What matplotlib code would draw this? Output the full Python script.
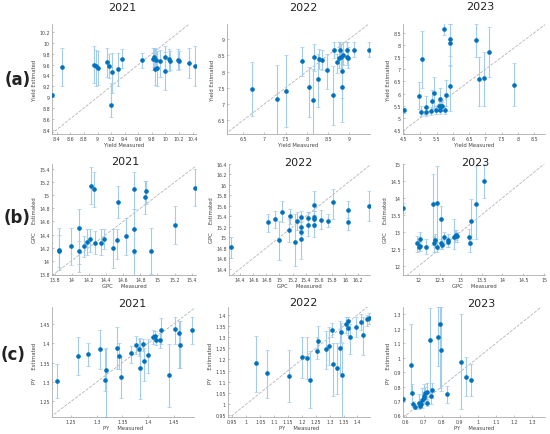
import matplotlib
matplotlib.use('Agg')
import matplotlib.pyplot as plt
import numpy as np
from matplotlib.ticker import FuncFormatter


# ---- row (a): yield ----
yield21_x = [8.33, 8.48, 8.95, 8.985, 9.0, 9.14, 9.175, 9.215, 9.2, 9.3, 9.36, 9.66, 9.81,
             9.83, 9.84, 9.86, 9.87, 9.92, 9.99, 9.99, 10.05, 10.07, 10.18, 10.2, 10.34, 10.44]
yield21_y = [9.04, 9.55, 9.60, 9.57, 9.54, 9.64, 9.57, 9.46, 8.86, 9.52, 9.70, 9.68, 9.70,
             9.74, 9.52, 9.69, 9.54, 9.66, 9.75, 9.49, 9.70, 9.67, 9.69, 9.66, 9.63, 9.58]
yield21_lo = [9.00, 9.21, 9.26, 9.21, 9.23, 9.37, 9.35, 9.08, 8.64, 9.21, 9.54, 9.54, 9.51,
              9.55, 9.23, 9.50, 9.21, 9.38, 9.48, 9.14, 9.48, 9.50, 9.51, 9.52, 9.35, 9.21]
yield21_hi = [9.08, 9.90, 9.95, 9.87, 9.85, 9.90, 9.80, 9.82, 9.26, 9.82, 9.88, 9.82, 9.90,
              9.90, 9.90, 9.88, 9.85, 9.87, 9.95, 9.84, 9.88, 9.85, 9.88, 9.86, 9.90, 9.95]

yield22_x = [6.70, 7.29, 7.52, 7.88, 8.06, 8.14, 8.17, 8.27, 8.29, 8.37, 8.48, 8.62, 8.64,
             8.72, 8.75, 8.78, 8.80, 8.83, 8.83, 8.86, 8.94, 8.95, 8.98, 9.12, 9.46]
yield22_y = [7.45, 7.16, 7.41, 8.31, 7.51, 7.13, 8.44, 7.77, 8.37, 8.34, 8.04, 7.27, 8.67,
             8.28, 8.42, 8.67, 8.44, 8.02, 7.51, 8.51, 8.67, 8.46, 8.42, 8.67, 8.67]
yield22_lo = [6.62, 6.06, 6.30, 7.86, 6.60, 5.90, 8.01, 6.90, 8.07, 8.05, 7.45, 6.37, 8.42,
              7.95, 8.10, 8.40, 8.10, 7.18, 6.44, 8.20, 8.45, 8.20, 8.10, 8.45, 8.45]
yield22_hi = [8.29, 8.19, 8.51, 8.75, 8.14, 8.09, 8.85, 8.54, 8.70, 8.65, 8.54, 8.16, 8.90,
              8.55, 8.90, 8.90, 8.85, 8.67, 8.24, 8.90, 8.90, 8.90, 8.75, 8.90, 8.90]

yield23_x = [4.50, 4.95, 5.01, 5.05, 5.17, 5.17, 5.34, 5.36, 5.42, 5.49, 5.57, 5.60, 5.62,
             5.65, 5.68, 5.73, 5.77, 5.80, 5.91, 5.91, 5.91, 6.71, 6.81, 6.95, 7.12, 7.87]
yield23_y = [5.31, 5.89, 5.26, 7.41, 5.46, 5.24, 5.28, 5.69, 6.03, 5.31, 5.51, 5.31, 5.76,
             5.51, 5.49, 8.64, 5.31, 5.96, 8.23, 8.08, 6.32, 8.19, 6.61, 6.64, 7.69, 6.37]
yield23_lo = [5.20, 5.35, 5.08, 6.23, 5.11, 5.10, 5.12, 5.35, 5.42, 5.15, 5.30, 5.15, 5.51,
              5.30, 5.30, 8.39, 5.15, 5.49, 7.56, 7.15, 5.28, 7.51, 5.51, 5.51, 6.68, 5.49]
yield23_hi = [5.40, 6.46, 5.49, 8.57, 5.89, 5.40, 5.45, 6.16, 6.70, 5.50, 5.70, 5.50, 6.23,
              5.70, 5.65, 8.89, 5.50, 6.57, 8.86, 8.86, 7.18, 8.86, 7.51, 7.72, 8.73, 7.24]

# ---- row (b): GPC ----
gpc21_x = [13.85, 13.85, 13.99, 14.09, 14.09, 14.14, 14.18, 14.21, 14.23, 14.26, 14.27, 14.34, 14.38,
           14.48, 14.53, 14.54, 14.63, 14.73, 14.73, 14.73, 14.85, 14.87, 14.93, 15.21, 15.44]
gpc21_y = [14.17, 14.14, 14.22, 14.50, 14.14, 14.22, 14.28, 14.33, 15.15, 15.09, 14.27, 14.27, 14.33,
           14.19, 14.31, 14.90, 14.37, 15.09, 14.49, 14.15, 14.97, 15.07, 14.15, 14.55, 15.12]
gpc21_lo = [13.85, 13.90, 13.93, 13.82, 13.95, 14.05, 14.08, 14.13, 14.87, 14.82, 14.10, 14.08, 14.18,
            13.88, 14.03, 14.66, 14.08, 14.79, 14.10, 13.70, 14.71, 14.87, 13.80, 14.26, 14.84]
gpc21_hi = [14.50, 14.40, 14.50, 14.79, 14.30, 14.38, 14.49, 14.49, 15.43, 15.36, 14.46, 14.49, 14.49,
            14.49, 14.49, 15.15, 14.66, 15.36, 14.79, 14.50, 15.22, 15.22, 14.50, 14.84, 15.40]

gpc22_x = [14.26, 14.83, 14.93, 15.00, 15.04, 15.14, 15.16, 15.24, 15.26, 15.33, 15.33, 15.33, 15.33,
           15.43, 15.43, 15.53, 15.53, 15.53, 15.53, 15.63, 15.74, 15.81, 16.04, 16.04, 16.37]
gpc22_y = [14.81, 15.29, 15.35, 14.94, 15.48, 15.13, 15.40, 14.91, 15.32, 15.38, 15.19, 15.11, 14.97,
           15.37, 15.24, 15.62, 15.38, 15.35, 15.23, 15.34, 15.32, 15.67, 15.53, 15.29, 15.60]
gpc22_lo = [14.60, 15.11, 15.17, 14.56, 15.29, 14.91, 15.26, 14.45, 15.13, 15.19, 15.05, 14.95, 14.59,
            15.21, 15.03, 15.35, 15.25, 15.20, 15.00, 15.16, 15.19, 15.35, 15.37, 15.13, 15.32]
gpc22_hi = [15.00, 15.45, 15.51, 15.32, 15.69, 15.35, 15.54, 15.45, 15.48, 15.51, 15.35, 15.30, 15.32,
            15.49, 15.48, 15.88, 15.50, 15.50, 15.42, 15.53, 15.45, 15.93, 15.70, 15.51, 15.89]

gpc23_x = [11.62, 11.96, 12.00, 12.02, 12.03, 12.16, 12.35, 12.36, 12.39, 12.44, 12.44, 12.52, 12.52,
           12.55, 12.60, 12.70, 12.70, 12.83, 12.86, 12.90, 12.91, 13.19, 13.22, 13.26, 13.36, 13.56]
gpc23_y = [13.70, 12.68, 12.55, 12.58, 12.79, 12.55, 13.82, 12.67, 12.76, 13.85, 12.55, 13.38, 12.67,
           12.62, 12.84, 12.75, 12.70, 12.84, 12.89, 12.91, 12.87, 12.84, 12.67, 13.31, 13.82, 14.49]
gpc23_lo = [13.55, 12.40, 12.45, 12.45, 12.60, 12.35, 12.60, 12.40, 12.55, 12.70, 12.40, 12.60, 12.50,
            12.50, 12.65, 12.55, 12.55, 12.50, 12.70, 12.75, 12.70, 12.60, 12.40, 12.79, 12.79, 13.99]
gpc23_hi = [13.85, 12.89, 12.75, 12.70, 12.99, 12.79, 14.71, 12.89, 12.95, 14.95, 12.70, 13.77, 12.80,
            12.75, 13.00, 12.94, 12.85, 13.38, 13.05, 13.05, 13.00, 13.09, 12.89, 13.97, 14.95, 15.00]

# ---- row (c): PY ----
py21_x = [1.223, 1.264, 1.282, 1.306, 1.316, 1.318, 1.339, 1.344, 1.347, 1.367, 1.376, 1.382, 1.384,
          1.390, 1.392, 1.400, 1.410, 1.413, 1.416, 1.423, 1.424, 1.440, 1.453, 1.460, 1.461, 1.485]
py21_y = [1.303, 1.367, 1.371, 1.384, 1.305, 1.331, 1.387, 1.367, 1.314, 1.374, 1.394, 1.384, 1.337,
          1.397, 1.353, 1.369, 1.416, 1.418, 1.407, 1.407, 1.434, 1.318, 1.437, 1.427, 1.394, 1.433]
py21_lo = [1.258, 1.318, 1.341, 1.333, 1.277, 1.210, 1.333, 1.333, 1.260, 1.350, 1.371, 1.367, 1.256,
           1.380, 1.303, 1.324, 1.399, 1.405, 1.395, 1.388, 1.399, 1.235, 1.399, 1.337, 1.335, 1.399]
py21_hi = [1.347, 1.416, 1.401, 1.435, 1.384, 1.388, 1.441, 1.401, 1.367, 1.393, 1.418, 1.410, 1.414,
           1.410, 1.388, 1.410, 1.433, 1.430, 1.420, 1.427, 1.465, 1.397, 1.467, 1.457, 1.457, 1.467]

py22_x = [1.034, 1.075, 1.153, 1.202, 1.219, 1.229, 1.253, 1.259, 1.286, 1.298, 1.307, 1.313, 1.325,
          1.337, 1.339, 1.345, 1.360, 1.367, 1.367, 1.373, 1.394, 1.411, 1.420, 1.433, 1.441]
py22_y = [1.182, 1.137, 1.127, 1.209, 1.206, 1.110, 1.239, 1.284, 1.247, 1.260, 1.334, 1.179, 1.161,
          1.251, 1.322, 1.130, 1.359, 1.371, 1.341, 1.299, 1.347, 1.370, 1.310, 1.379, 1.385]
py22_lo = [1.056, 1.029, 1.007, 1.116, 1.112, 0.981, 1.202, 1.232, 1.157, 1.176, 1.302, 1.037, 1.044,
           1.137, 1.277, 0.930, 1.317, 1.350, 1.310, 1.224, 1.299, 1.332, 1.220, 1.350, 1.360]
py22_hi = [1.304, 1.242, 1.242, 1.302, 1.302, 1.239, 1.299, 1.349, 1.329, 1.344, 1.362, 1.272, 1.272,
           1.374, 1.362, 1.272, 1.389, 1.390, 1.370, 1.359, 1.389, 1.404, 1.392, 1.400, 1.410]

py23_x = [0.585, 0.631, 0.635, 0.641, 0.650, 0.672, 0.678, 0.687, 0.690, 0.700, 0.702, 0.709,
          0.715, 0.718, 0.737, 0.742, 0.746, 0.779, 0.792, 0.794, 0.831, 0.903, 0.931, 0.960]
py23_y = [0.711, 0.947, 0.753, 0.676, 0.660, 0.683, 0.665, 0.676, 0.706, 0.723, 0.734, 0.753,
          0.764, 0.688, 1.120, 0.734, 0.776, 1.145, 1.235, 1.053, 0.746, 0.972, 0.868, 0.843]
py23_lo = [0.690, 0.746, 0.688, 0.655, 0.645, 0.642, 0.650, 0.660, 0.653, 0.700, 0.676, 0.720,
           0.711, 0.665, 0.757, 0.676, 0.723, 0.942, 0.792, 0.769, 0.688, 0.642, 0.734, 0.734]
py23_hi = [0.730, 1.231, 0.815, 0.700, 0.680, 0.746, 0.680, 0.700, 0.792, 0.750, 0.815, 0.800,
           0.827, 0.710, 1.342, 0.792, 0.827, 1.351, 1.351, 1.351, 0.803, 1.300, 1.004, 0.958]

years = ['2021', '2022', '2023']
row_labels = ['(a)', '(b)', '(c)']
var_names = ['Yield', 'GPC', 'PY']

panels = [
    [(yield21_x, yield21_y, yield21_lo, yield21_hi),
     (yield22_x, yield22_y, yield22_lo, yield22_hi),
     (yield23_x, yield23_y, yield23_lo, yield23_hi)],
    [(gpc21_x, gpc21_y, gpc21_lo, gpc21_hi),
     (gpc22_x, gpc22_y, gpc22_lo, gpc22_hi),
     (gpc23_x, gpc23_y, gpc23_lo, gpc23_hi)],
    [(py21_x, py21_y, py21_lo, py21_hi),
     (py22_x, py22_y, py22_lo, py22_hi),
     (py23_x, py23_y, py23_lo, py23_hi)],
]

# axis limits and tick step per panel
limits = [
    [((8.33, 10.45), (8.32, 10.35), 0.2), ((6.12, 9.49), (6.08, 9.46), 0.5), ((4.47, 8.83), (4.34, 8.86), 0.5)],
    [((13.77, 15.45), (13.78, 15.48), 0.2), ((14.23, 16.38), (14.28, 16.40), 0.2), ((11.62, 15.02), (11.73, 15.0), 0.5)],
    [((1.213, 1.489), (1.21, 1.493), 0.05), ((0.934, 1.445), (0.942, 1.435), 0.05), ((0.585, 1.37), (0.589, 1.35), 0.1)],
]

W, H = 550, 435
# pixel boxes: (left, top, right, bottom)
boxes = [
    [(52, 25, 196, 135), (227, 25, 370, 135), (403, 25, 545, 135)],
    [(52, 165, 196, 276), (229, 165, 370, 276), (403, 165, 545, 276)],
    [(52, 308, 194, 418), (228, 308, 370, 418), (403, 308, 545, 418)],
]
title_pos = [[(122, 8), (303, 8), (480, 7)],
             [(125, 162), (298, 163), (475, 163)],
             [(132, 304), (303, 303), (481, 304)]]
label_pos = [(18, 80), (17, 218), (13, 355)]

fig = plt.figure(figsize=(W / 100, H / 100), dpi=100)

def nice(v, pos=None):
    return ('%.2f' % v).rstrip('0').rstrip('.')

for r in range(3):
    for c in range(3):
        l, t, rr, b = boxes[r][c]
        ax = fig.add_axes([l / W, 1 - b / H, (rr - l) / W, (b - t) / H])
        x, y, lo, hi = [np.array(a) for a in panels[r][c]]
        (x0, x1), (y0, y1), step = limits[r][c]

        # 1:1 reference line
        lo_d = min(x0, y0)
        hi_d = max(x1, y1)
        ax.plot([lo_d, hi_d], [lo_d, hi_d], '--', color='#b5b5b5', lw=0.6, zorder=1)

        yerr = [np.maximum(y - lo, 0), np.maximum(hi - y, 0)]
        ax.errorbar(x, y, yerr=yerr, fmt='none', ecolor='#a3cbeb', elinewidth=0.8,
                    capsize=1.3, capthick=0.5, zorder=2)
        ax.plot(x, y, 'o', color='#0072BD', ms=2.3, mec='#0072BD', zorder=3)

        ax.set_xlim(x0, x1)
        ax.set_ylim(y0, y1)
        xt = np.arange(np.ceil(x0 / step - 1e-6) * step, x1 + 1e-9, step)
        yt = np.arange(np.ceil(y0 / step - 1e-6) * step, y1 + 1e-9, step)
        ax.set_xticks(xt)
        ax.set_yticks(yt)
        ax.xaxis.set_major_formatter(FuncFormatter(nice))
        ax.yaxis.set_major_formatter(FuncFormatter(nice))

        for s in ['top', 'right']:
            ax.spines[s].set_visible(False)
        for s in ['left', 'bottom']:
            ax.spines[s].set_color('#9a9a9a')
            ax.spines[s].set_linewidth(0.5)
        ax.tick_params(direction='in', length=1.5, width=0.4, color='#9a9a9a',
                       labelsize=3.4, labelcolor='#444444', pad=1.5)

        name = var_names[r]
        gap = ' ' if r == 0 else '     '
        ax.set_xlabel(name + gap + 'Measured', fontsize=3.8, color='#444444', labelpad=1)
        ax.set_ylabel(name + gap + 'Estimated', fontsize=3.8, color='#444444', labelpad=1.5)

        tx, ty = title_pos[r][c]
        fig.text(tx / W, 1 - ty / H, years[c], ha='center', va='center', fontsize=8, color='#222222')

for r in range(3):
    lx, ly = label_pos[r]
    fig.text(lx / W, 1 - ly / H, row_labels[r], ha='center', va='center',
             fontsize=12, fontweight='bold', color='#222222')

fig.savefig('out.png', dpi=100)
